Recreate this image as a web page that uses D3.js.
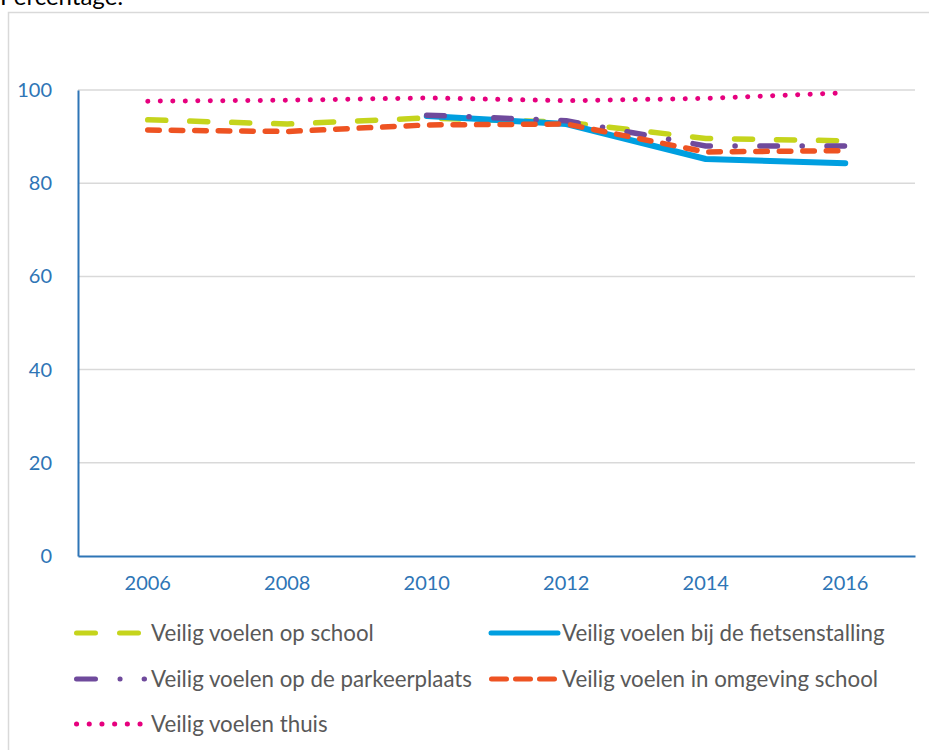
<!DOCTYPE html>
<html>
<head>
<meta charset="utf-8">
<script src="https://cdn.jsdelivr.net/npm/d3@7"></script>
<style>
  body { margin: 0; background: #fff; }
  svg text { font-family: Lato, "Open Sans", sans-serif; }
</style>
</head>
<body>
<svg id="chart" width="929" height="750"></svg>
<script>
// data
var years = ["2006", "2008", "2010", "2012", "2014", "2016"];
var yTicks = [0, 20, 40, 60, 80, 100];

var opSchool = [93.6, 92.7, 94.0, 93.1, 89.6, 89.1];
var fietsenstalling = [null, null, 94.4, 92.7, 85.2, 84.3];
var parkeerplaats = [null, null, 94.6, 93.4, 88.0, 88.0];
var omgeving = [91.4, 91.1, 92.5, 92.7, 86.7, 87.0];
var thuis = [97.6, 97.8, 98.3, 97.7, 98.2, 99.4];

var seriesNames = [
  "Veilig voelen op school",
  "Veilig voelen bij de fietsenstalling",
  "Veilig voelen op de parkeerplaats",
  "Veilig voelen in omgeving school",
  "Veilig voelen thuis"
];

// styling per series
var styles = [
  { color: "#c5d41c", width: 5.5, dash: "18,24" },
  { color: "#009fe0", width: 6, dash: null },
  { color: "#6f4a9c", width: 5.5, dash: "17.5,24.75,0.1,24.75" },
  { color: "#ee5322", width: 5.5, dash: "11.5,12" },
  { color: "#e6007e", width: 5, dash: "0.1,12.4" }
];
var allValues = [opSchool, fietsenstalling, parkeerplaats, omgeving, thuis];

var svg = d3.select("#chart");

// page title, mostly cut off at the top like the original
svg.append("text")
  .attr("x", 0).attr("y", 5)
  .attr("font-size", 24).attr("fill", "#000")
  .text("Percentage:");

// outer frame
svg.append("path")
  .attr("d", "M8.5,760 V12.5 H929")
  .attr("fill", "none").attr("stroke", "#d9d9d9").attr("stroke-width", 1.5);

var mLeft = 78, mRight = 915, mTop = 90, mBottom = 556;

var x = d3.scaleBand().domain(years).range([mLeft, mRight]);
var y = d3.scaleLinear().domain([0, 100]).range([mBottom, mTop]);

// gridlines
svg.append("g").selectAll("line").data(yTicks.filter(function (d) { return d > 0; }))
  .enter().append("line")
    .attr("x1", mLeft).attr("x2", mRight)
    .attr("y1", function (d) { return y(d); })
    .attr("y2", function (d) { return y(d); })
    .attr("stroke", "#d9d9d9").attr("stroke-width", 1.5);

// y axis
var yAxis = svg.append("g")
  .attr("transform", "translate(" + mLeft + ",0)")
  .call(d3.axisLeft(y).tickValues(yTicks).tickSize(0).tickPadding(26));
yAxis.select(".domain").attr("stroke", "#2e75b6").attr("stroke-width", 2);
yAxis.selectAll("text").attr("font-size", 20).attr("fill", "#2e75b6")
  .attr("font-family", "Lato, sans-serif");

// x axis
var xAxis = svg.append("g")
  .attr("transform", "translate(0," + mBottom + ")")
  .call(d3.axisBottom(x).tickSize(0).tickPadding(20));
xAxis.select(".domain").attr("stroke", "#2e75b6").attr("stroke-width", 2);
xAxis.selectAll("text").attr("font-size", 20).attr("fill", "#2e75b6")
  .attr("font-family", "Lato, sans-serif");

// lines
var line = d3.line()
  .defined(function (d) { return d.v != null; })
  .x(function (d) { return x(d.year) + x.bandwidth() / 2; })
  .y(function (d) { return y(d.v); });

allValues.forEach(function (vals, i) {
  var pts = years.map(function (yr, j) { return { year: yr, v: vals[j] }; });
  var st = styles[i];
  svg.append("path")
    .datum(pts)
    .attr("d", line)
    .attr("fill", "none")
    .attr("stroke", st.color)
    .attr("stroke-width", st.width)
    .attr("stroke-linecap", "round")
    .attr("stroke-linejoin", "round")
    .attr("stroke-dasharray", st.dash);
});

// legend
var legendPos = [
  { x: 76.5, y: 633, tx: 151 },
  { x: 491, y: 633, tx: 562 },
  { x: 76.5, y: 679, tx: 151 },
  { x: 491.5, y: 679, tx: 562 },
  { x: 76.5, y: 724, tx: 151 }
];
var legendDash = ["19,24", null, "19,24.5,0.1,24", "15,9", "0.1,12.6"];
var legendLen = [64, 67, 68, 63, 64];

var legend = svg.append("g").selectAll("g").data(seriesNames)
  .enter().append("g")
    .attr("transform", function (d, i) { return "translate(" + legendPos[i].x + "," + legendPos[i].y + ")"; });

legend.append("line")
  .attr("x1", 0)
  .attr("x2", function (d, i) { return legendLen[i]; })
  .attr("y1", 0).attr("y2", 0)
  .attr("stroke", function (d, i) { return styles[i].color; })
  .attr("stroke-width", 5)
  .attr("stroke-linecap", "round")
  .attr("stroke-dasharray", function (d, i) { return legendDash[i]; });

legend.append("text")
  .attr("x", function (d, i) { return legendPos[i].tx - legendPos[i].x; })
  .attr("y", 0).attr("dy", "0.35em")
  .attr("font-size", 22.3).attr("fill", "#595959")
  .text(function (d) { return d; });
</script>
</body>
</html>
